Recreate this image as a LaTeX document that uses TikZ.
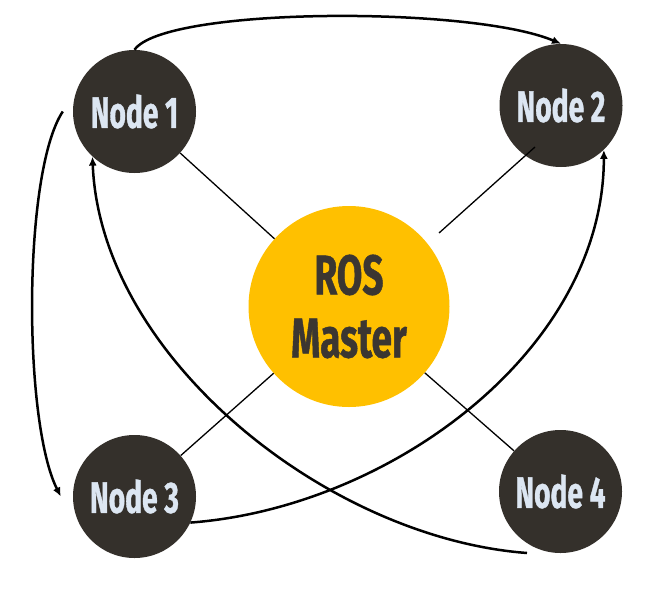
\documentclass[tikz,border=0pt]{standalone}
\usepackage{fontspec}
\usepackage{tikz}
\usetikzlibrary{arrows.meta}
\newfontfamily\labelfont[FakeStretch=0.64,FakeBold=0.8]{Fira Sans}
\newfontfamily\masterfont[FakeStretch=0.66,FakeBold=0.8]{Fira Sans}
\definecolor{nodedark}{HTML}{34302B}
\definecolor{nodetext}{HTML}{DCE6F2}
\definecolor{rosyellow}{HTML}{FFC000}
\definecolor{mastertext}{HTML}{3B3631}

\begin{document}
\begin{tikzpicture}[x=1pt,y=1pt]

\tikzstyle{box1}=[circle, fill=nodedark, text=nodetext, minimum size=123pt, inner sep=0pt, font={\labelfont\bfseries\fontsize{44}{50}\selectfont}]
\tikzstyle{box2}=[circle, fill=rosyellow, text=mastertext, minimum size=201pt, inner sep=0pt, align=center, font={\masterfont\bfseries\fontsize{56}{63}\selectfont}]
\tikzstyle{link}=[line width=1.3pt]
\tikzstyle{arrow}=[-{Latex[length=9pt,width=8pt]}, line width=2.5pt]

\useasboundingbox (0,0) rectangle (653,-595);

\node (N1) [box1] at (134.5,-111.5) {Node 1};
\node (N2) [box1] at (561,-105.5)   {Node 2};
\node (N3) [box1] at (134.5,-496.5) {Node 3};
\node (N4) [box1] at (560.5,-491.5) {Node 4};
\node (M)  [box2] at (349,-306.5)   {ROS\\Master};

\coordinate (F4) at (527,-553);

% links to the master
\draw [link] (N1) -- (M);
\draw [link] ([shift={(-26,-41.5)}]N2.center) -- ([shift={(90,73.5)}]M.center);
\draw [link] (N3) -- (M);
\draw [link] (M) -- (N4);

% messages between nodes
\draw [arrow] (N1.north) .. controls +(30,43) and +(-90,38) .. (N2.north);
\draw [arrow] ([xshift=-10pt]N1.west) .. controls +(-40,-60) and +(-38,75) .. ([xshift=-12pt]N3.west);
\draw [arrow] (F4) .. controls +(-200,15) and +(8,-200) .. (N1.227);
\draw [arrow] (N3.335) .. controls +(200,15) and +(0,-200) .. (N2.314);

\end{tikzpicture}
\end{document}
